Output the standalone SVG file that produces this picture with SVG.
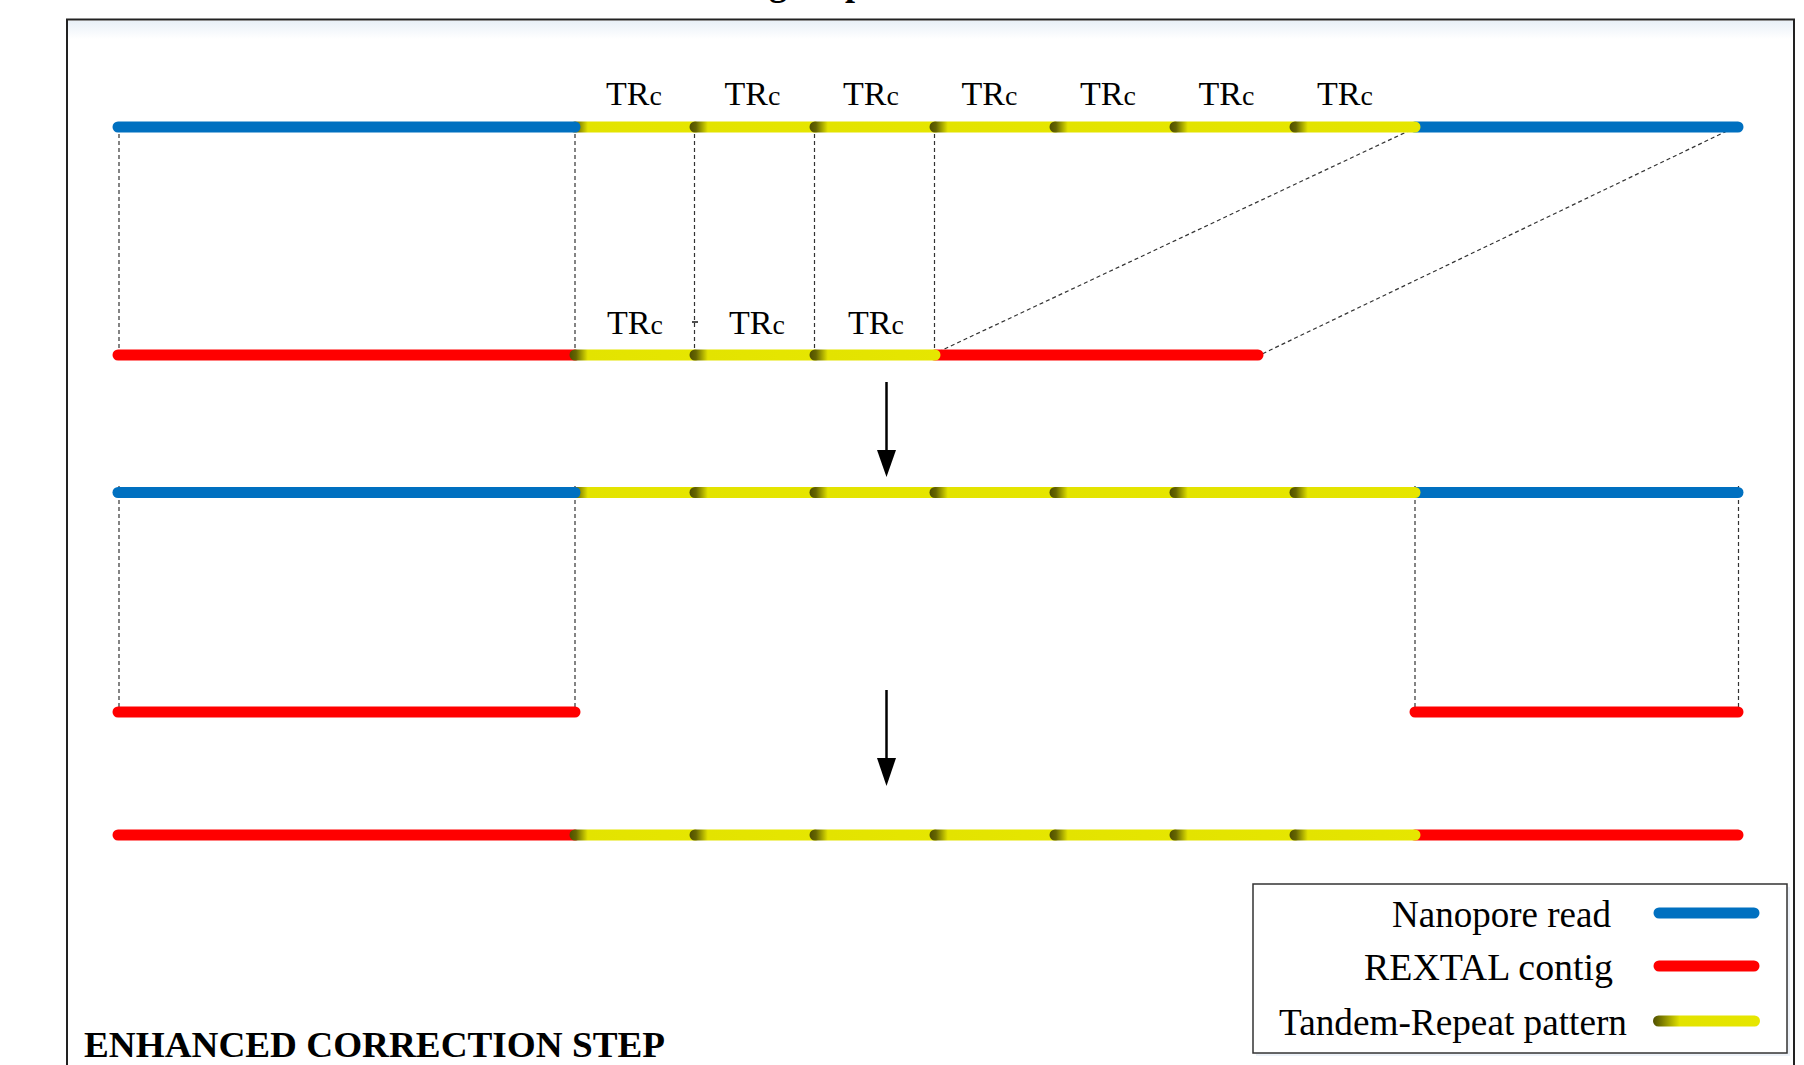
<svg xmlns="http://www.w3.org/2000/svg" width="1804" height="1065" viewBox="0 0 1804 1065">
<style>
.tr{font-family:"Liberation Serif","Times New Roman",serif;font-size:34px;fill:#000}
.c{font-size:28px}
.lg{font-family:"Liberation Serif","Times New Roman",serif;font-size:37px;fill:#000}
.title{font-family:"Liberation Serif","Times New Roman",serif;font-size:36px;font-weight:bold;fill:#000}
.blue{stroke:#0070c0;stroke-width:11;stroke-linecap:round;fill:none}
.red{stroke:#ff0000;stroke-width:11;stroke-linecap:round;fill:none}
.dash{stroke:#333;stroke-width:1.2;stroke-dasharray:4,3;fill:none}
.arrow{stroke:#000;stroke-width:2.5;fill:none}
</style>
<defs>
<linearGradient id="yg" x1="0" y1="0" x2="1" y2="0">
<stop offset="0" stop-color="#4f4f00"/>
<stop offset="0.05" stop-color="#666600"/>
<stop offset="0.14" stop-color="#e3e300"/>
<stop offset="1" stop-color="#e6e600"/>
</linearGradient>
<linearGradient id="ylg" x1="0" y1="0" x2="1" y2="0">
<stop offset="0" stop-color="#4f4f00"/>
<stop offset="0.08" stop-color="#7a7a00"/>
<stop offset="0.25" stop-color="#e3e300"/>
<stop offset="1" stop-color="#e6e600"/>
</linearGradient>
<linearGradient id="shade" x1="0" y1="0" x2="0" y2="1">
<stop offset="0" stop-color="#e9f0f7"/>
<stop offset="1" stop-color="#ffffff"/>
</linearGradient>
<symbol id="seg" overflow="visible">
<rect x="-5.5" y="-5.5" width="131" height="11" rx="5.5" fill="url(#yg)"/>
</symbol>
</defs>
<rect width="1804" height="1065" fill="#fff"/>
<text class="title" x="769" y="-5" font-size="74">g</text>
<text class="title" x="845" y="-5" font-size="74">p</text>
<g id="frame">
<rect x="68" y="21" width="1725" height="18" fill="url(#shade)"/>
<rect x="67" y="19.5" width="1727" height="1100" fill="none" stroke="#222" stroke-width="2"/>
</g>
<g id="connectors">
<line class="dash" x1="119" y1="127" x2="119" y2="355"/>
<line class="dash" x1="575" y1="127" x2="575" y2="355"/>
<line class="dash" x1="694.5" y1="127" x2="694.5" y2="355"/>
<line class="dash" x1="814.5" y1="127" x2="814.5" y2="355"/>
<line class="dash" x1="934.5" y1="127" x2="934.5" y2="355"/>
<line class="dash" x1="1417" y1="127" x2="938" y2="352"/>
<line class="dash" x1="1727" y1="131" x2="1262" y2="354"/>
<line class="dash" x1="119" y1="486" x2="119" y2="714"/>
<line class="dash" x1="575" y1="486" x2="575" y2="714"/>
<line class="dash" x1="1415" y1="486" x2="1415" y2="716"/>
<line class="dash" x1="1738.5" y1="486" x2="1738.5" y2="716"/>
<line x1="692" y1="322" x2="698" y2="322" stroke="#222" stroke-width="1.6"/>
<rect x="811" y="125.5" width="5" height="1.8" fill="#222"/>
<g id="arrow1">
<line class="arrow" x1="886.5" y1="382" x2="886.5" y2="452"/>
<polygon points="877,450 896,450 886.5,477" fill="#000"/>
</g>
<g id="arrow2">
<line class="arrow" x1="886.5" y1="690" x2="886.5" y2="760"/>
<polygon points="877,758 896,758 886.5,786" fill="#000"/>
</g>
</g>
<g id="nanopore-read-1">
<line class="blue" x1="1415" y1="127" x2="1738" y2="127"/>
<use href="#seg" x="575" y="127"/><use href="#seg" x="695" y="127"/><use href="#seg" x="815" y="127"/><use href="#seg" x="935" y="127"/><use href="#seg" x="1055" y="127"/><use href="#seg" x="1175" y="127"/><use href="#seg" x="1295" y="127"/>
<line class="blue" x1="118" y1="127" x2="575" y2="127"/>
<text class="tr" x="606" y="105">TR<tspan class="c">c</tspan></text>
<text class="tr" x="724.5" y="105">TR<tspan class="c">c</tspan></text>
<text class="tr" x="843" y="105">TR<tspan class="c">c</tspan></text>
<text class="tr" x="961.5" y="105">TR<tspan class="c">c</tspan></text>
<text class="tr" x="1080" y="105">TR<tspan class="c">c</tspan></text>
<text class="tr" x="1198.5" y="105">TR<tspan class="c">c</tspan></text>
<text class="tr" x="1317" y="105">TR<tspan class="c">c</tspan></text>
</g>
<g id="rextal-contig-1">
<line class="red" x1="118" y1="355" x2="575" y2="355"/>
<line class="red" x1="935" y1="355" x2="1258" y2="355"/>
<use href="#seg" x="575" y="355"/><use href="#seg" x="695" y="355"/><use href="#seg" x="815" y="355"/>
<text class="tr" x="607" y="334">TR<tspan class="c">c</tspan></text>
<text class="tr" x="729" y="334">TR<tspan class="c">c</tspan></text>
<text class="tr" x="848" y="334">TR<tspan class="c">c</tspan></text>
</g>
<g id="nanopore-read-2">
<line class="blue" x1="1415" y1="492.5" x2="1738" y2="492.5"/>
<use href="#seg" x="575" y="492.5"/><use href="#seg" x="695" y="492.5"/><use href="#seg" x="815" y="492.5"/><use href="#seg" x="935" y="492.5"/><use href="#seg" x="1055" y="492.5"/><use href="#seg" x="1175" y="492.5"/><use href="#seg" x="1295" y="492.5"/>
<line class="blue" x1="118" y1="492.5" x2="575" y2="492.5"/>
</g>
<g id="rextal-contig-left">
<line class="red" x1="118" y1="712" x2="575" y2="712"/>
</g>
<g id="rextal-contig-right">
<line class="red" x1="1415" y1="712" x2="1738" y2="712"/>
</g>
<g id="corrected-contig">
<line class="red" x1="118" y1="835" x2="575" y2="835"/>
<line class="red" x1="1415" y1="835" x2="1738" y2="835"/>
<use href="#seg" x="575" y="835"/><use href="#seg" x="695" y="835"/><use href="#seg" x="815" y="835"/><use href="#seg" x="935" y="835"/><use href="#seg" x="1055" y="835"/><use href="#seg" x="1175" y="835"/><use href="#seg" x="1295" y="835"/>
</g>
<g id="legend">
<rect x="1256" y="887" width="534" height="169" fill="#edf2f8"/>
<rect x="1253" y="884" width="534" height="169" fill="#fff" stroke="#333" stroke-width="1.5"/>
<text class="lg" x="1392" y="927" textLength="219" lengthAdjust="spacingAndGlyphs">Nanopore read</text>
<text class="lg" x="1364" y="980" textLength="249" lengthAdjust="spacingAndGlyphs">REXTAL contig</text>
<text class="lg" x="1279" y="1035" textLength="348" lengthAdjust="spacingAndGlyphs">Tandem-Repeat pattern</text>
<line class="blue" x1="1659" y1="913" x2="1754" y2="913"/>
<line class="red" x1="1659" y1="966" x2="1754" y2="966"/>
<rect x="1653" y="1015.5" width="107" height="11" rx="5.5" fill="url(#ylg)"/>
</g>
<g id="step-label">
<text class="title" x="84" y="1057" textLength="581" lengthAdjust="spacingAndGlyphs">ENHANCED CORRECTION STEP</text>
</g>
</svg>
